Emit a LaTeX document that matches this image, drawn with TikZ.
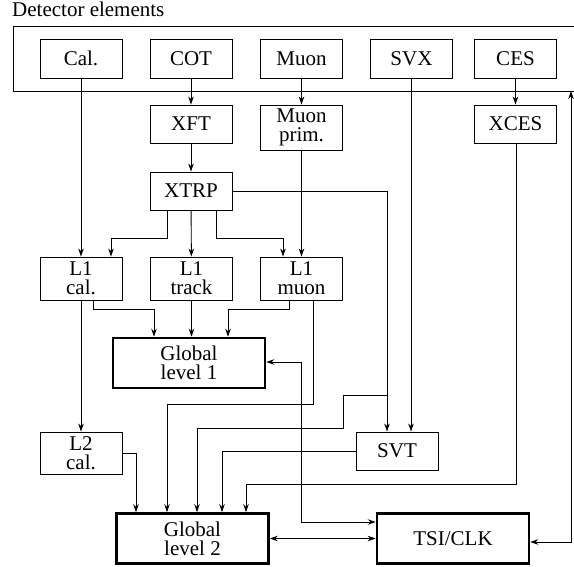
\documentclass[tikz,border=0pt]{standalone}
\usepackage{fontspec}
\setmainfont{Liberation Serif}
\usetikzlibrary{arrows.meta}

\begin{document}
\begin{tikzpicture}[x=1pt, y=-1pt, every node/.style={align=center, inner sep=0pt, font=\fontsize{21}{19}\selectfont},
    unit/.style={draw, line width=0.9pt, minimum width=82pt, minimum height=39pt},
    global/.style={draw, line width=2.6pt, minimum width=152pt, minimum height=50pt},
    arr/.style={-{Stealth[length=8pt,width=5.5pt]}, line width=0.9pt},
    dblarr/.style={{Stealth[length=8pt,width=5.5pt]}-{Stealth[length=8pt,width=5.5pt]}, line width=0.9pt}]
                \useasboundingbox (0,0) rectangle (574,566);

                \node[anchor=base west] (title) at (12,16) {Detector elements};
                \draw[line width=0.9pt] (576,26) -| (13,91) -- (576,91);
                \coordinate (frame) at (571,91);

                \node[unit] (cal) at (81,58.5) {Cal.};
                \node[unit] (cot) at (191,58.5) {COT};
                \node[unit] (muon) at (301.5,58.5) {Muon};
                \node[unit] (svx) at (411.5,58.5) {SVX};
                \node[unit] (ces) at (515.5,58.5) {CES};

                \node[unit, minimum height=38pt] (xft) at (191,124) {XFT};
                \node[unit, minimum height=45pt] (muonprim) at (301.5,127.5) {Muon\\prim.};
                \node[unit, minimum height=38pt] (xces) at (515.5,124) {XCES};
                \node[unit, minimum height=38pt] (xtrp) at (191,191) {XTRP};

                \node[unit, minimum height=43pt] (l1cal) at (81,278.5) {L1\\cal.};
                \node[unit, minimum height=43pt] (l1track) at (191.5,278.5) {L1\\track};
                \node[unit, minimum height=43pt] (l1muon) at (301.5,278.5) {L1\\muon};

                \node[global] (gl1) at (189,363) {Global\\level 1};

                \node[unit, minimum height=42pt] (l2cal) at (81,453) {L2\\cal.};
                \node[unit, minimum height=38pt] (svt) at (397,451) {SVT};

                \node[global] (gl2) at (192.5,538.5) {Global\\level 2};
                \node[global] (tsi) at (453,538.5) {TSI/CLK};

                \draw[arr] (cot) -- (xft);
                \draw[arr] (muon) -- (muonprim);
                \draw[arr] (ces) -- (xces);
                \draw[arr] (xft) -- (xtrp);
                \draw[arr] (cal) -- (l1cal);
                \draw[arr] (l1cal) -- (l2cal);

                \draw[arr] (xtrp.south -| 167,0) |- (111,238) -- (l1cal.north -| 111,0);
                \draw[arr] (xtrp) -- (l1track);
                \draw[arr] (xtrp.south -| 216,0) |- (283,238) -- (l1muon.north -| 283,0);
                \draw[arr] (muonprim) -- (l1muon);

                \draw[arr] (l1cal.south -| 93,0) |- (154,309) -- (gl1.north -| 154,0);
                \draw[arr] (l1track.south) -- (l1track.south |- gl1.north);
                \draw[arr] (l1muon.south -| 289,0) |- (228,309) -- (gl1.north -| 228,0);

                \draw[arr] (xtrp.east) -| (svt.north -| 387,0);
                \draw[arr] (svx.south -| 411,0) -- (svt.north -| 411,0);
                \coordinate (xtrpbr) at (387,395);
                \draw[arr] (xtrpbr) -| (343,428) -| (gl2.north -| 197,0);
                \draw[arr] (l1muon.south -| 313,0) |- (167,404) -- (gl2.north -| 167,0);
                \draw[arr] (svt.west) -| (gl2.north -| 222,0);
                \draw[arr] (xces.south -| 516,0) |- (246,484) -- (gl2.north -| 246,0);
                \draw[arr] (l2cal.east) -| (gl2.north -| 136,0);

                \draw[dblarr] (gl2) -- (tsi);
                \draw[dblarr] (gl1.east |- 0,362) -| (301,522) -- (tsi.west |- 0,522);
                \draw[dblarr] (frame) |- (tsi.east |- 0,542);
            \end{tikzpicture}
\end{document}
